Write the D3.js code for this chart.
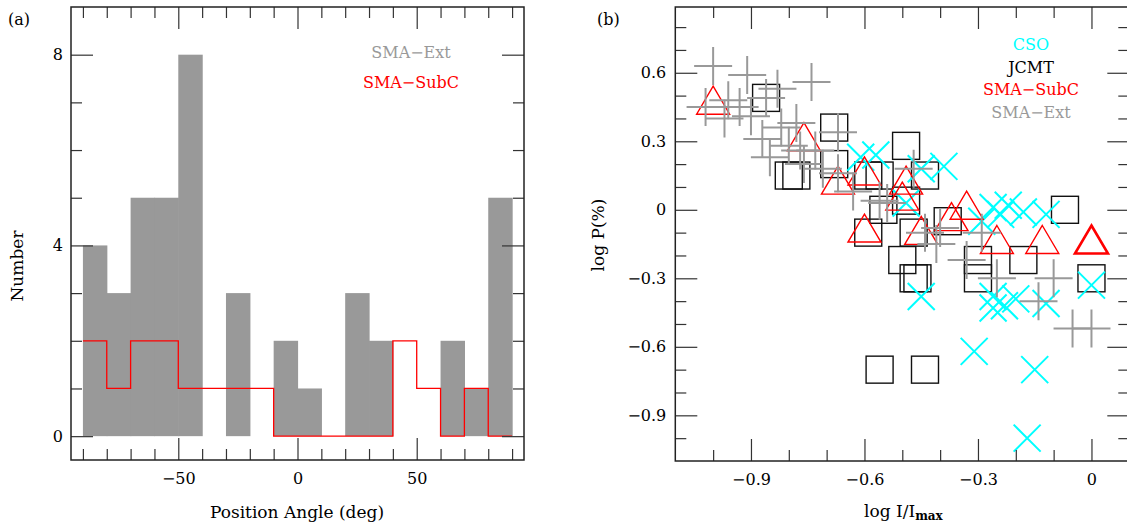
<!DOCTYPE html>
<html><head><meta charset="utf-8">
<script src="https://cdn.jsdelivr.net/npm/d3@7"></script>
<style>
html,body{margin:0;padding:0;background:#fff;}
text{font-family:"DejaVu Serif",serif;}
</style></head>
<body><svg id="c" width="1127" height="525"></svg>
<script>
// ---------- Panel (a) data ----------
const binStarts = [-90,-80,-70,-60,-50,-40,-30,-20,-10,0,10,20,30,40,50,60,70,80];
const binEnd = 90;
const extCounts  = [4,3,5,5,8,0,3,0,2,1,0,3,2,0,0,2,1,5];
const subcCounts = [2,1,2,2,1,1,1,1,0,0,0,0,0,2,1,0,1,0];
const aXMajor = [-50,0,50];
const aXMinor = [-90,-80,-70,-60,-40,-30,-20,-10,10,20,30,40,60,70,80,90];
const aYMajor = [0,4,8];
const aYMinor = [1,2,3,5,6,7];

// ---------- Panel (b) data ----------
const csoX = [-0.61,-0.57,-0.49,-0.45,-0.39,-0.29,-0.26,-0.24,-0.22,-0.18,-0.12,-0.45,-0.26,-0.26,-0.23,-0.20,-0.12,0.00,-0.31,-0.15,-0.17];
const csoY = [0.23,0.24,0.03,0.18,0.19,-0.05,0.01,-0.02,0.02,-0.01,-0.02,-0.38,-0.38,-0.43,-0.42,-0.39,-0.41,-0.33,-0.62,-0.70,-1.00];
const jcmtX = [-0.86,-0.80,-0.78,-0.68,-0.68,-0.59,-0.56,-0.49,-0.44,-0.55,-0.49,-0.59,-0.47,-0.38,-0.50,-0.47,-0.46,-0.30,-0.30,-0.18,-0.07,0.00,-0.56,-0.44];
const jcmtY = [0.49,0.15,0.15,0.36,0.20,0.15,0.15,0.28,0.15,0.00,0.04,-0.10,-0.10,-0.05,-0.22,-0.30,-0.30,-0.22,-0.30,-0.22,0.00,-0.30,-0.70,-0.70];
const subcX = [-1.00,-0.76,-0.67,-0.60,-0.49,-0.50,-0.60,-0.45,-0.37,-0.33,-0.25,-0.13,0.00];
const subcY = [0.48,0.32,0.13,0.17,0.13,0.06,-0.08,-0.09,-0.03,0.02,-0.13,-0.13,-0.13];
const extX = [-1.00,-0.91,-0.74,-0.83,-0.86,-0.96,-0.93,-0.97,-0.90,-1.02,-0.87,-0.85,-0.82,-0.78,-0.80,-0.77,-0.73,-0.71,-0.76,-0.67,-0.67,-0.63,-0.47,-0.56,-0.54,-0.44,-0.41,-0.40,-0.33,-0.29,-0.25,-0.10,-0.14,-0.05,0.00];
const extY = [0.63,0.59,0.56,0.53,0.49,0.48,0.45,0.40,0.41,0.45,0.31,0.23,0.36,0.38,0.28,0.26,0.26,0.18,0.20,0.34,0.16,0.08,0.18,0.04,0.03,-0.10,-0.15,-0.08,-0.22,-0.10,-0.30,-0.30,-0.40,-0.52,-0.52];
const bXMajor = [-0.9,-0.6,-0.3,0];
const bXMinor = [-1.0,-0.8,-0.7,-0.5,-0.4,-0.2,-0.1];
const bYMajor = [0.6,0.3,0,-0.3,-0.6,-0.9];
const bYMinor = [0.8,0.7,0.5,0.4,0.2,0.1,-0.1,-0.2,-0.4,-0.5,-0.7,-0.8,-1.0];

const svg = d3.select("#c");
const TICK = "#333", MAJ = 22, MIN = 11;

function frameAndTicks(g, x, y, xMaj, xMin, yMaj, yMin, xFmt, yFmt, padY){
  const [x0,x1] = x.range(), [y0,y1] = y.range(); // y0 bottom, y1 top
  const style = sel => { sel.select(".domain").remove(); sel.selectAll("line").attr("stroke",TICK).attr("stroke-width",1.2);
    sel.selectAll("text").attr("fill","#000").style("font-family","DejaVu Serif").style("font-size","16px"); };
  g.append("g").attr("transform",`translate(0,${y0})`).call(d3.axisBottom(x).tickValues(xMaj).tickSize(-MAJ).tickPadding(13).tickFormat(xFmt)).call(style);
  g.append("g").attr("transform",`translate(0,${y0})`).call(d3.axisBottom(x).tickValues(xMin).tickSize(-MIN).tickFormat("")).call(style);
  g.append("g").attr("transform",`translate(0,${y1})`).call(d3.axisTop(x).tickValues(xMaj).tickSize(-MAJ).tickFormat("")).call(style);
  g.append("g").attr("transform",`translate(0,${y1})`).call(d3.axisTop(x).tickValues(xMin).tickSize(-MIN).tickFormat("")).call(style);
  g.append("g").attr("transform",`translate(${x0},0)`).call(d3.axisLeft(y).tickValues(yMaj).tickSize(-MAJ).tickPadding(padY).tickFormat(yFmt)).call(style);
  g.append("g").attr("transform",`translate(${x0},0)`).call(d3.axisLeft(y).tickValues(yMin).tickSize(-MIN).tickFormat("")).call(style);
  g.append("g").attr("transform",`translate(${x1},0)`).call(d3.axisRight(y).tickValues(yMaj).tickSize(-MAJ).tickFormat("")).call(style);
  g.append("g").attr("transform",`translate(${x1},0)`).call(d3.axisRight(y).tickValues(yMin).tickSize(-MIN).tickFormat("")).call(style);
  g.append("rect").attr("x",x0).attr("y",y1).attr("width",x1-x0).attr("height",y0-y1)
    .attr("fill","none").attr("stroke","#222").attr("stroke-width",1.5);
}

// ---------- Panel (a) ----------
const xA = d3.scaleLinear().domain([-95,95]).range([71,524]);
const yA = d3.scaleLinear().domain([-0.5,9]).range([460,7]);
const gA = svg.append("g");
const binW = binStarts[1]-binStarts[0];
gA.selectAll("rect.bar").data(binStarts.map((b,i)=>({b,c:extCounts[i]})).filter(d=>d.c>0)).join("rect")
  .attr("class","bar").attr("x",d=>xA(d.b)).attr("width",d=>xA(d.b+binW)-xA(d.b)+0.6)
  .attr("y",d=>yA(d.c)).attr("height",d=>yA(0)-yA(d.c)).attr("fill","#999");
const stepPts = binStarts.map((b,i)=>[b,subcCounts[i]]).concat([[binEnd,subcCounts[subcCounts.length-1]]]);
gA.append("path").attr("d",d3.line().x(d=>xA(d[0])).y(d=>yA(d[1])).curve(d3.curveStepAfter)(stepPts))
  .attr("fill","none").attr("stroke","#f00").attr("stroke-width",1.3);
frameAndTicks(gA, xA, yA, aXMajor, aXMinor, aYMajor, aYMinor, d3.format("d"), d3.format("d"), 8);
gA.append("text").attr("x",411).attr("y",58).attr("text-anchor","middle").attr("fill","#999").style("font-size","16px").text("SMA−Ext");
gA.append("text").attr("x",411).attr("y",88).attr("text-anchor","middle").attr("fill","#f00").style("font-size","16px").text("SMA−SubC");
gA.append("text").attr("x",8).attr("y",25).style("font-size","16px").text("(a)");
gA.append("text").attr("transform","translate(23,266) rotate(-90)").attr("text-anchor","middle").style("font-size","17px").text("Number");
gA.append("text").attr("x",297).attr("y",518).attr("text-anchor","middle").style("font-size","17px").text("Position Angle (deg)");

// ---------- Panel (b) ----------
const xB = d3.scaleLinear().domain([-1.1,0.1]).range([675.3,1129.3]);
const yB = d3.scaleLinear().domain([-1.1,0.888]).range([461,7]);
const gB = svg.append("g");
const fmtB = d => d===0 ? "0" : d3.format(".1f")(d);
const clipId = "clipB";
svg.append("clipPath").attr("id",clipId).append("rect").attr("x",675.3).attr("y",7).attr("width",454).attr("height",454);
const gM = gB.append("g").attr("clip-path",`url(#${clipId})`);
const zip = (xs,ys)=>xs.map((v,i)=>({x:v,y:ys[i]}));
// JCMT squares
const SQ = 27;
gM.selectAll("rect.sq").data(zip(jcmtX,jcmtY)).join("rect").attr("class","sq")
  .attr("x",d=>xB(d.x)-SQ/2).attr("y",d=>yB(d.y)-SQ/2).attr("width",SQ).attr("height",SQ)
  .attr("fill","none").attr("stroke","#111").attr("stroke-width",1.4);
// CSO crosses
const XS = 13.5;
gM.selectAll("path.cso").data(zip(csoX,csoY)).join("path").attr("class","cso")
  .attr("d",d=>{const cx=xB(d.x),cy=yB(d.y);return `M${cx-XS},${cy-XS}L${cx+XS},${cy+XS}M${cx-XS},${cy+XS}L${cx+XS},${cy-XS}`;})
  .attr("fill","none").attr("stroke","#0ff").attr("stroke-width",2);
// SMA-SubC triangles
const TW = 16.5, TH = 14;
gM.selectAll("path.tri").data(zip(subcX,subcY)).join("path").attr("class","tri")
  .attr("d",d=>{const cx=xB(d.x),cy=yB(d.y);return `M${cx},${cy-TH}L${cx+TW},${cy+TH}L${cx-TW},${cy+TH}Z`;})
  .attr("fill","none").attr("stroke","#f00").attr("stroke-width",(d,i)=>i===subcX.length-1?2.6:1.4);
// SMA-Ext pluses
const PS = 19;
gM.selectAll("path.ext").data(zip(extX,extY)).join("path").attr("class","ext")
  .attr("d",d=>{const cx=xB(d.x),cy=yB(d.y);return `M${cx-PS},${cy}L${cx+PS},${cy}M${cx},${cy-PS}L${cx},${cy+PS}`;})
  .attr("fill","none").attr("stroke","#999").attr("stroke-width",2);
frameAndTicks(gB, xB, yB, bXMajor, bXMinor, bYMajor, bYMinor, fmtB, fmtB, 9);
const legB = [["CSO","#0ff",50],["JCMT","#000",73],["SMA−SubC","#f00",95],["SMA−Ext","#999",118]];
gB.selectAll("text.leg").data(legB).join("text").attr("class","leg").attr("x",1031).attr("y",d=>d[2])
  .attr("text-anchor","middle").attr("fill",d=>d[1]).style("font-size","16px").text(d=>d[0]);
gB.append("text").attr("x",597).attr("y",25).style("font-size","16px").text("(b)");
gB.append("text").attr("transform","translate(604,235) rotate(-90)").attr("text-anchor","middle").style("font-size","17px").text("log P(%)");
const xl = gB.append("text").attr("x",864).attr("y",517).style("font-size","17px");
xl.append("tspan").text("log  I/I");
xl.append("tspan").attr("dy",3).style("font-size","12px").style("font-weight","bold").text("max");
</script></body></html>
